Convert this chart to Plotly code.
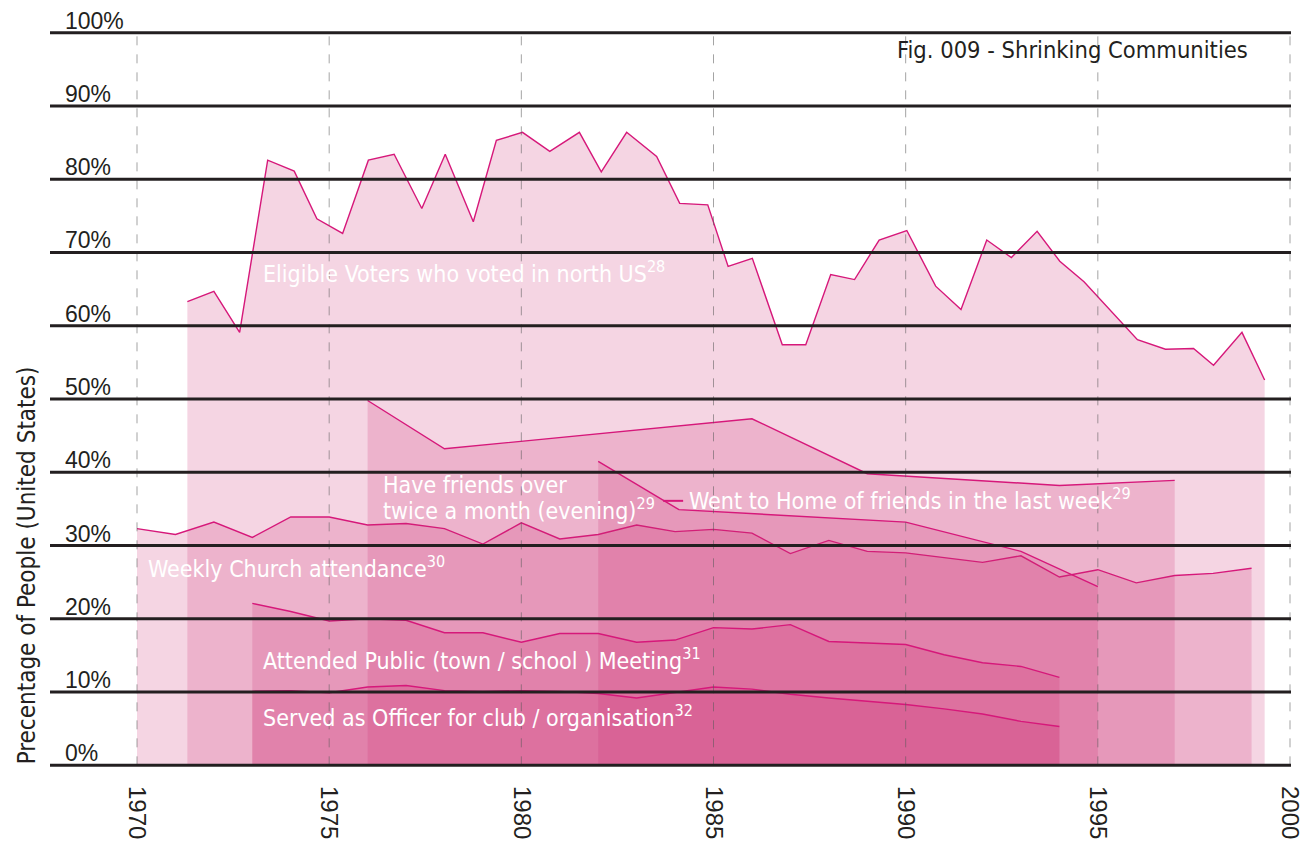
import plotly.graph_objects as go

# ---- data ----
voters_years = [1971.31, 1972.0, 1972.67, 1973.40, 1974.09, 1974.68, 1975.35, 1976.02, 1976.69,
                1977.41, 1978.02, 1978.75, 1979.35, 1980.03, 1980.74, 1981.51, 1982.08, 1982.74,
                1983.52, 1984.12, 1984.85, 1985.38, 1986.01, 1986.79, 1987.40, 1988.05, 1988.67,
                1989.31, 1990.03, 1990.78, 1991.44, 1992.11, 1992.75, 1993.42, 1994.01, 1994.64,
                1996.03, 1996.76, 1997.49, 1998.01, 1998.75, 1999.34]
voters_pct = [63.3, 64.7, 59.1, 82.6, 81.1, 74.6, 72.6, 82.6, 83.4,
              76.0, 83.4, 74.2, 85.3, 86.4, 83.8, 86.4, 81.0, 86.4,
              83.1, 76.7, 76.5, 68.1, 69.2, 57.4, 57.4, 67.0, 66.3,
              71.7, 73.0, 65.4, 62.2, 71.7, 69.3, 72.9, 68.8, 66.0,
              58.1, 56.8, 56.9, 54.6, 59.1, 52.6]

church_years = list(range(1970, 2000))
church_pct = [32.3, 31.5, 33.2, 31.1, 33.9, 33.9, 32.8, 33.0, 32.3, 30.2,
              33.1, 30.9, 31.5, 32.8, 31.9, 32.2, 31.7, 28.9, 30.7, 29.2,
              29.0, 28.4, 27.7, 28.6, 25.7, 26.7, 24.9, 25.9, 26.2, 26.9]

friends_over_years = [1976, 1978, 1986, 1989, 1994, 1997]
friends_over_pct = [49.8, 43.2, 47.3, 39.8, 38.2, 38.9]

went_home_years = [1982, 1984.1, 1990, 1993, 1995]
went_home_pct = [41.5, 34.9, 33.2, 29.2, 24.4]

meeting_years = list(range(1973, 1995))
meeting_pct = [22.1, 21.0, 19.7, 20.0, 19.8, 18.1, 18.1, 16.8, 18.0, 18.0, 16.8,
               17.1, 18.8, 18.6, 19.2, 16.9, 16.7, 16.5, 15.1, 14.0, 13.5, 12.0]

officer_years = list(range(1973, 1995))
officer_pct = [10.1, 10.2, 9.9, 10.7, 10.9, 10.2, 10.1, 10.2, 10.1, 9.8, 9.2,
               9.9, 10.7, 10.4, 9.7, 9.2, 8.8, 8.3, 7.7, 7.0, 6.0, 5.3]

y_ticks = [0, 10, 20, 30, 40, 50, 60, 70, 80, 90, 100]
x_ticks = [1970, 1975, 1980, 1985, 1990, 1995, 2000]

LINE = "#d6187a"
FILL = "rgba(205,45,115,0.2)"
INK = "#231f20"
NARROW = "Liberation Sans Narrow, DejaVu Sans Condensed, Arial Narrow, sans-serif"

series = [
    (voters_years, voters_pct),
    (church_years, church_pct),
    (friends_over_years, friends_over_pct),
    (went_home_years, went_home_pct),
    (meeting_years, meeting_pct),
    (officer_years, officer_pct),
]

fig = go.Figure()
for xs, ys in series:
    fig.add_trace(go.Scatter(x=xs, y=ys, mode="lines", fill="tozeroy",
                             fillcolor=FILL, line=dict(color=LINE, width=1.4),
                             hoverinfo="skip", showlegend=False))

shapes = []
# dashed year lines
for t in x_ticks:
    shapes.append(dict(type="line", xref="x", yref="y", x0=t, x1=t, y0=0, y1=100,
                       line=dict(color="rgba(90,90,90,0.55)", width=1, dash="9px,9px"),
                       layer="above"))
# heavy percentage rules
for t in y_ticks:
    shapes.append(dict(type="line", xref="paper", yref="y", x0=0, x1=1, y0=t, y1=t,
                       line=dict(color=INK, width=3), layer="above"))
# leader for "went to home"
shapes.append(dict(type="line", xref="x", yref="y", x0=1983.69, x1=1984.21, y0=36.1, y1=36.1,
                   line=dict(color=LINE, width=2), layer="above"))

annotations = []
for t in y_ticks:
    annotations.append(dict(x=0.0105, y=t, xref="paper", yref="y", text=f"{t}%",
                            showarrow=False, xanchor="left", yanchor="bottom", yshift=-3,
                            font=dict(family="Liberation Sans, Arial, sans-serif", size=23, color=INK)))

labels = [
    (1973.23, 67.4, "Eligible Voters who voted in north US<sup>28</sup>"),
    (1976.35, 38.2, "Have friends over"),
    (1976.35, 35.0, "twice a month (evening)<sup>29</sup>"),
    (1984.31, 36.4, "Went to Home of friends in the last week<sup>29</sup>"),
    (1970.23, 27.1, "Weekly Church attendance<sup>30</sup>"),
    (1973.23, 14.5, "Attended Public (town / school ) Meeting<sup>31</sup>"),
    (1973.23, 6.7, "Served as Officer for club / organisation<sup>32</sup>"),
]
for lx, ly, txt in labels:
    annotations.append(dict(x=lx, y=ly, xref="x", yref="y", text=txt, showarrow=False,
                            xanchor="left", yanchor="middle", align="left",
                            font=dict(family=NARROW, size=23, color="white")))

annotations.append(dict(x=1998.96, y=97.7, xref="x", yref="y",
                        text="Fig. 009 - Shrinking Communities", showarrow=False,
                        xanchor="right", yanchor="middle",
                        font=dict(family=NARROW, size=23.5, color=INK)))
annotations.append(dict(x=-0.0185, y=27.3, xref="paper", yref="y",
                        text="Precentage of People (United States)", showarrow=False,
                        textangle=-90, xanchor="center", yanchor="middle",
                        font=dict(family=NARROW, size=24, color=INK)))

# page body has an 8px margin, so the figure is sized/offset to land on the same pixels
fig.update_layout(
    width=1298, height=834,
    margin=dict(l=42, r=15, t=21, b=73),
    paper_bgcolor="white", plot_bgcolor="white",
    shapes=shapes, annotations=annotations,
    xaxis=dict(range=[1967.736, 2000.026], tickvals=x_ticks, tickangle=90,
               showgrid=False, zeroline=False, showline=False, ticks="",
               ticklabelstandoff=16, automargin=False,
               tickfont=dict(family="Liberation Sans, Arial, sans-serif", size=24, color=INK)),
    yaxis=dict(range=[-0.5, 100.5], showgrid=False, zeroline=False, showline=False,
               showticklabels=False, ticks="", automargin=False),
)

fig.write_html("out.html")
